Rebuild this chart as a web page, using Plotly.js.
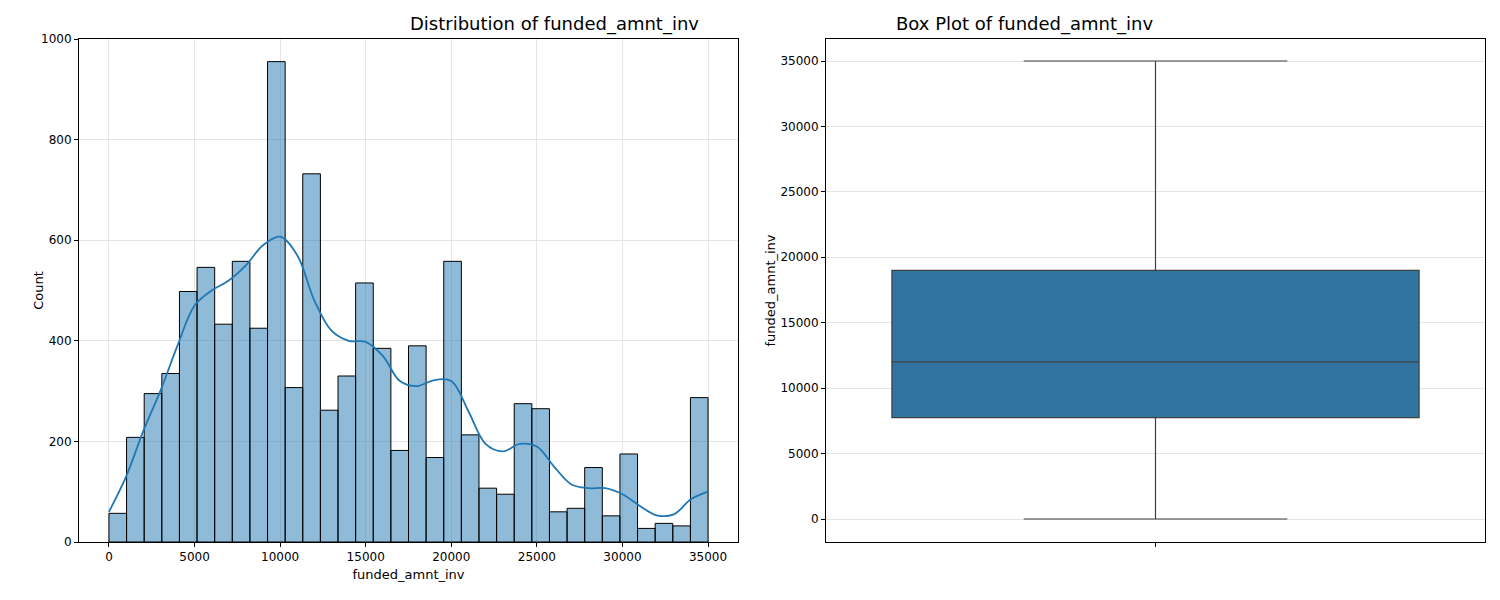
<!DOCTYPE html><html><head><script src="https://cdn.plot.ly/plotly-3.0.1.min.js"></script></head><body style="margin:0"><div id="c" style="width:1500px;height:600px"></div><script>
const binStart=0, binEnd=35000, nBins=34;
const counts=[57,208,295,335,498,546,433,558,425,955,307,732,262,330,515,385,182,390,168,558,213,107,95,275,265,60,67,148,52,175,27,37,32,287];
const kdeX=[0,1000,2000,3000,4000,5000,6000,7000,8000,9000,10000,11000,12000,13000,14000,15000,16000,17000,18000,19000,20000,21000,22000,23000,24000,25000,26000,27000,28000,29000,30000,31000,32000,33000,34000,35000];
const kdeY=[60,130,220,300,390,470,500,520,550,590,607,570,480,420,400,398,370,320,310,322,320,260,195,180,195,190,150,115,107,107,95,72,53,55,85,100];
const boxStats={q1:7750,median:12000,q3:19000,lower:0,upper:35000};
const w=(binEnd-binStart)/nBins;
const centers=counts.map((_,i)=>binStart+w*(i+0.5));
const ax={showline:true,mirror:true,linecolor:'black',ticks:'outside',ticklen:4,tickcolor:'black',showgrid:true,gridcolor:'#e5e5e5',zeroline:false,tickformat:'d',tickfont:{size:12,color:'black'}};
Plotly.newPlot('c',[
{type:'bar',x:centers,y:counts,width:w,marker:{color:'rgba(31,119,180,0.5)',line:{color:'black',width:1}},xaxis:'x',yaxis:'y',showlegend:false},
{type:'scatter',mode:'lines',x:kdeX,y:kdeY,line:{color:'#1f77b4',width:1.8,shape:'spline'},xaxis:'x',yaxis:'y',showlegend:false},
{type:'box',x:['a'],q1:[boxStats.q1],median:[boxStats.median],q3:[boxStats.q3],lowerfence:[boxStats.lower],upperfence:[boxStats.upper],fillcolor:'#3274a1',line:{color:'#3f3f3f',width:1.2},width:0.8,whiskerwidth:0.5,xaxis:'x2',yaxis:'y2',showlegend:false}
],{
width:1500,height:600,paper_bgcolor:'white',plot_bgcolor:'white',font:{family:'DejaVu Sans',color:'black'},margin:{l:0,r:0,t:0,b:0},
xaxis:Object.assign({},ax,{domain:[79/1500,738/1500],range:[-1750,36750],tickvals:[0,5000,10000,15000,20000,25000,30000,35000],title:{text:'funded_amnt_inv',font:{size:13},standoff:6},anchor:'y'}),
yaxis:Object.assign({},ax,{domain:[58/600,561/600],range:[0,1000],dtick:200,title:{text:'Count',font:{size:13}},anchor:'x'}),
xaxis2:Object.assign({},ax,{domain:[826/1500,1485/1500],range:[-0.5,0.5],tickvals:['a'],ticktext:[''],showgrid:false,anchor:'y2'}),
yaxis2:Object.assign({},ax,{domain:[58/600,561/600],range:[-1758,36681],dtick:5000,title:{text:'funded_amnt_inv',font:{size:13}},anchor:'x2'}),
annotations:[
{text:'Distribution of funded_amnt_inv',x:408/1500,y:1-24/600,xref:'paper',yref:'paper',yanchor:'middle',showarrow:false,font:{size:18,color:'black'}},
{text:'Box Plot of funded_amnt_inv',x:1155/1500,y:1-24/600,xref:'paper',yref:'paper',yanchor:'middle',showarrow:false,font:{size:18,color:'black'}}]
},{displayModeBar:false});
</script></body></html>
